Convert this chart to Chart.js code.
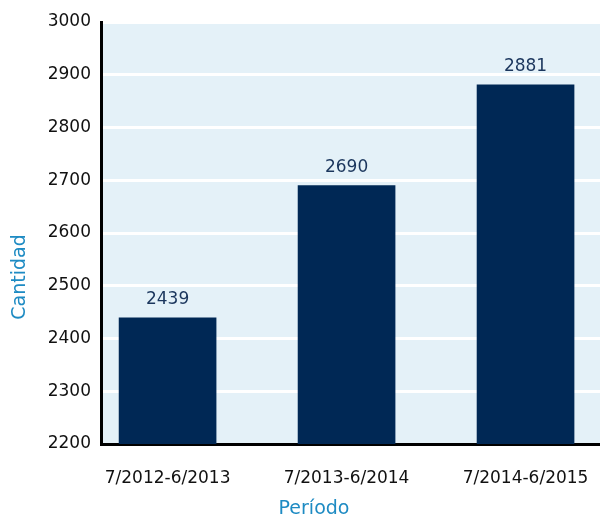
<!DOCTYPE html>
<html>
<head>
<meta charset="utf-8">
<script src="https://cdn.jsdelivr.net/npm/chart.js@4/dist/chart.umd.min.js"></script>
<style>
  html, body { margin: 0; padding: 0; background: #fff; }
  #wrap { width: 600px; height: 518px; }
</style>
</head>
<body>
<div id="wrap"><canvas id="chart"></canvas></div>
<script>
// datos
const periodos = ['7/2012-6/2013', '7/2013-6/2014', '7/2014-6/2015'];
const cantidad = [2439, 2690, 2881];
const yMin = 2200;
const yMax = 3000;

const fuente = 'DejaVu Sans';

// fondo celeste del area del grafico
const fondo = {
    id: 'fondo',
    beforeDraw(chart) {
        const a = chart.chartArea;
        const ctx = chart.ctx;
        ctx.save();
        ctx.fillStyle = '#e4f1f8';
        ctx.fillRect(a.left, a.top - 1, a.right - a.left, a.bottom - a.top + 1);
        ctx.restore();
    }
};

// valores encima de las barras + titulos de ejes
const etiquetas = {
    id: 'etiquetas',
    afterDatasetsDraw(chart) {
        const ctx = chart.ctx;
        const meta = chart.getDatasetMeta(0);
        ctx.save();
        ctx.font = '17px "' + fuente + '"';
        ctx.fillStyle = '#1b365d';
        ctx.textAlign = 'center';
        ctx.textBaseline = 'middle';
        meta.data.forEach((bar, i) => {
            ctx.fillText(String(cantidad[i]), bar.x, bar.y - 18);
        });
        ctx.restore();
    },
    afterDraw(chart) {
        const ctx = chart.ctx;
        ctx.save();
        ctx.font = '19px "' + fuente + '"';
        ctx.fillStyle = '#1e8bc3';
        ctx.textAlign = 'center';
        ctx.textBaseline = 'middle';
        ctx.fillText('Período', 314, 509);
        ctx.translate(20, 277);
        ctx.rotate(-Math.PI / 2);
        ctx.fillText('Cantidad', 0, 0);
        ctx.restore();
    }
};

new Chart(document.getElementById('chart'), {
    type: 'bar',
    data: {
        datasets: [{
            data: cantidad.map((v, i) => ({ x: i, y: v })),
            backgroundColor: '#002855',
            barThickness: 97
        }]
    },
    options: {
        responsive: true,
        maintainAspectRatio: false,
        animation: false,
        layout: { padding: { top: 22, left: 0, right: 0, bottom: 0 } },
        plugins: {
            legend: { display: false },
            tooltip: { enabled: false }
        },
        scales: {
            x: {
                type: 'linear',
                bounds: 'data',
                offset: false,
                min: -0.372,
                max: 2.416,
                grid: { display: false, drawTicks: false, offset: false },
                border: { display: true, color: '#000', width: 3 },
                ticks: {
                    autoSkip: false,
                    maxRotation: 0,
                    padding: 24,
                    color: '#111',
                    font: { family: fuente, size: 17 },
                    callback: v => periodos[Math.round(v)]
                },
                afterBuildTicks: s => { s.ticks = periodos.map((p, i) => ({ value: i })); },
                afterFit: s => {
                    s.height = 74;
                    s.paddingLeft = 0;
                    s.paddingRight = 0;
                }
            },
            y: {
                min: yMin,
                max: yMax,
                grid: { color: '#ffffff', lineWidth: 3, drawTicks: false },
                border: { display: true, color: '#000', width: 3 },
                ticks: {
                    stepSize: 100,
                    padding: 10,
                    color: '#111',
                    font: { family: fuente, size: 17 },
                    callback: v => String(v)
                },
                afterFit: s => { s.width = 101; }
            }
        }
    },
    plugins: [fondo, etiquetas]
});
</script>
</body>
</html>
